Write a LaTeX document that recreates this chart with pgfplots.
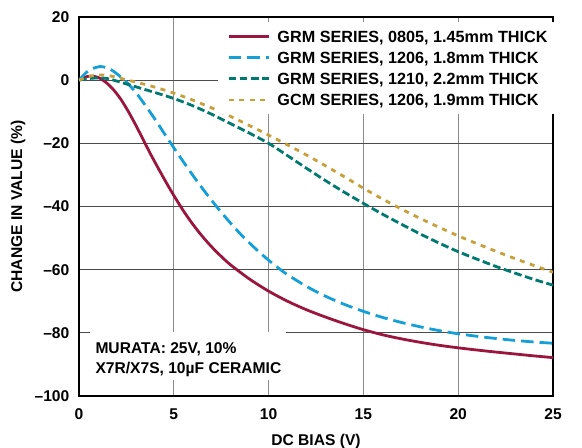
\documentclass[border=0pt]{standalone}
\usepackage{fontspec}
\setmainfont{Liberation Sans}
\usepackage{pgfplots}
\pgfplotsset{compat=1.18}
\definecolor{cred}{RGB}{155,22,62}
\definecolor{cblue}{RGB}{20,160,215}
\definecolor{cteal}{RGB}{0,122,112}
\definecolor{cgold}{RGB}{200,160,58}
\begin{document}
\begin{tikzpicture}
\begin{axis}[
  at={(0,0)}, anchor=south west,
  scale only axis, width=474bp, height=379bp,
  xmin=0, xmax=25, ymin=-100, ymax=20,
  xtick={0,5,10,15,20,25}, xticklabels={0,5,10,15,20,25},
  ytick={-100,-80,-60,-40,-20,0,20},
  yticklabels={–100,–80,–60,–40,–20,0,20},
  major tick length=0pt,
  grid=major,
  x grid style={black!45, line width=1bp},
  y grid style={black!70, line width=1bp},
  axis line style={line width=1.5bp},
  font=\fontsize{15.6bp}{18bp}\selectfont\bfseries,
  xticklabel style={anchor=base, inner sep=0pt, yshift=-23bp},
  yticklabel style={anchor=east, inner sep=0pt, xshift=-9.5bp},
  xlabel={DC BIAS (V)},
  ylabel={CHANGE IN VALUE (\%)},
  xlabel style={at={(axis description cs:0.5,-0.1293)}, anchor=base, inner sep=0pt},
  ylabel style={at={(axis description cs:-0.1287,0.5)}, anchor=center, inner sep=0pt},
  legend style={draw=none, fill=white, at={(axis description cs:0.2932,0.9868)}, anchor=north west,
    inner xsep=9bp, inner ysep=8.5bp, row sep=9.8bp,
    font=\fontsize{16.2bp}{18bp}\selectfont\bfseries,
    nodes={inner sep=0pt, text height=11.4bp, text depth=0bp},
    /tikz/every odd column/.append style={column sep=7.5bp}},
  legend cell align=left,
  legend image code/.code={\draw[#1] (0bp,0bp) -- (40bp,0bp);},
]
\addplot[cred, line width=2.8bp, smooth, tension=0.5] coordinates {
(0,0) (0.3,0.9) (0.6,1.3) (1,0.9) (1.4,-0.6) (1.8,-2.9) (2.2,-6.0) (2.6,-9.9)
(3,-14.3) (3.4,-19.0) (3.8,-23.7) (4.2,-28.1) (4.6,-32.4) (5,-36.5)
(5.5,-41.3) (6,-45.6) (6.5,-49.4) (7,-52.8) (7.5,-55.8) (8,-58.5) (9,-63.0) (10,-66.8)
(11,-70.0) (12,-72.7) (13,-75.0) (14,-77.1) (15,-79.0) (16,-80.6) (17,-81.9) (18,-83.0)
(19,-83.95) (20,-84.75) (21,-85.45) (22,-86.1) (23,-86.7) (24,-87.3) (25,-87.85)
};
\addlegendentry{GRM SERIES, 0805, 1.45mm THICK}
\addplot[cblue, line width=2.8bp, dash pattern=on 12.5bp off 6bp, smooth, tension=0.5] coordinates {
(0,0) (0.5,3.0) (1.1,4.3) (1.6,3.6) (2,2.0) (2.5,-0.6) (3,-3.9) (3.5,-8.0) (4,-12.3)
(4.5,-16.9) (5,-21.4) (5.5,-25.8) (6,-30.1) (6.5,-34.2) (7,-38.1) (7.5,-41.8)
(8,-45.3) (8.5,-48.6) (9,-51.6) (9.5,-54.4) (10,-57.0) (10.5,-59.4) (11,-61.6)
(12,-65.3) (13,-68.4) (14,-71.0) (15,-73.2) (16,-75.1) (17,-76.7) (18,-78.1) (19,-79.3)
(20,-80.3) (21,-81.1) (22,-81.8) (23,-82.4) (24,-82.9) (25,-83.3)
};
\addlegendentry{GRM SERIES, 1206, 1.8mm THICK}
\addplot[cteal, line width=2.8bp, dash pattern=on 7.7bp off 3.5bp, smooth, tension=0.5] coordinates {
(0,0) (0.5,0.5) (1,0.7) (1.5,0.5) (2,-0.3) (2.5,-1.2) (3,-2.1) (3.5,-3.0) (4,-3.9)
(5,-5.8) (6,-8.1) (7,-10.8) (8,-13.8) (9,-16.8) (10,-20) (11,-23.9) (12,-27.9) (13,-31.8)
(14,-35.5) (15,-39) (16,-42.4) (17,-45.6) (18,-48.7) (19,-51.6) (20,-54.3) (21,-56.7)
(22,-59) (23,-61.1) (24,-63.1) (25,-64.9)
};
\addlegendentry{GRM SERIES, 1210, 2.2mm THICK}
\addplot[cgold, line width=2.8bp, dash pattern=on 5bp off 5.5bp, smooth, tension=0.5] coordinates {
(0,0) (0.5,1.1) (1,1.6) (1.5,1.5) (2,0.9) (2.5,0.1) (3,-0.6) (4,-2.2) (5,-4.1) (6,-6.3)
(7,-8.8) (8,-11.5) (9,-14.4) (10,-17.4) (11,-20.5) (12,-23.7) (13,-27.1) (14,-30.6)
(15,-34.2) (16,-37.6) (17,-40.8) (18,-43.8) (19,-46.6) (20,-49.3) (21,-51.8) (22,-54.2)
(23,-56.5) (24,-58.7) (25,-60.8)
};
\addlegendentry{GCM SERIES, 1206, 1.9mm THICK}
\fill[white] (axis description cs:0.0232,0.0422) rectangle (axis description cs:0.4367,0.1689);
\node[anchor=base west, inner sep=0pt] at (axis description cs:0.0344,0.1127) {MURATA: 25V, 10\%};
\node[anchor=base west, inner sep=0pt] at (axis description cs:0.0344,0.0599) {X7R/X7S, 10µF CERAMIC};
\end{axis}
\pgfresetboundingbox
\path[use as bounding box] (-79bp,-52bp) rectangle (503bp,396bp);
\end{tikzpicture}
\end{document}
